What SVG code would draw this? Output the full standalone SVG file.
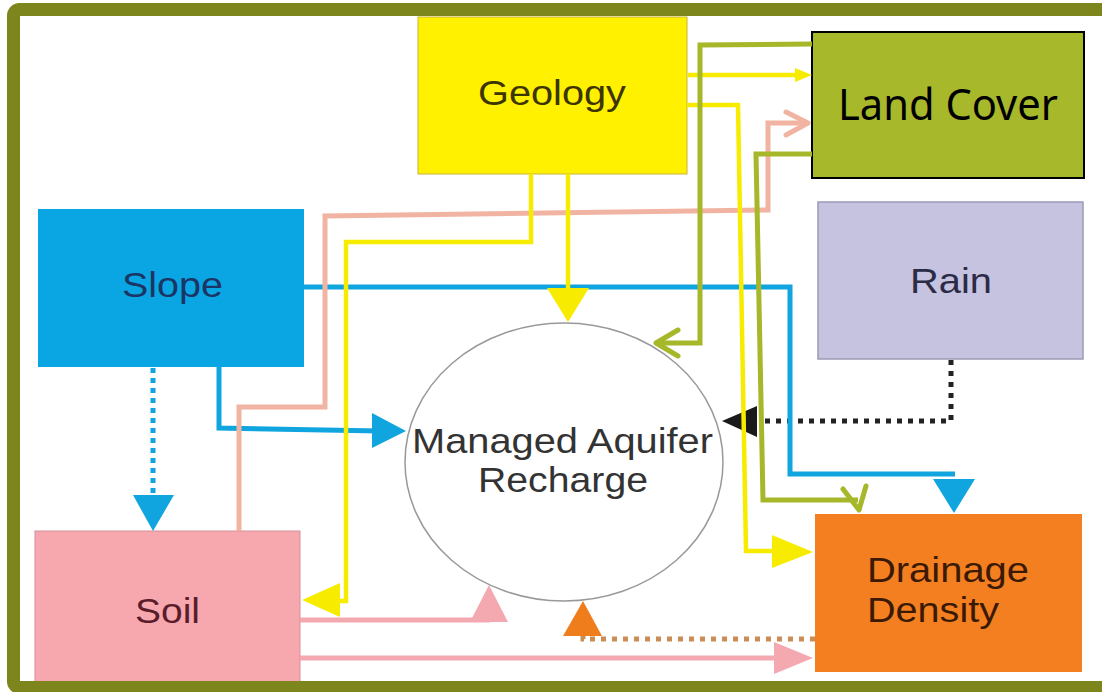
<svg xmlns="http://www.w3.org/2000/svg" width="1102" height="692" viewBox="0 0 1102 692">
<style>
.t{font-family:"Liberation Sans",Arial,sans-serif;font-size:35px}
.y{fill:none;stroke:#f7ec00;stroke-width:4.5}
.yf{fill:#f7ec00}
.b{fill:none;stroke:#10a5de;stroke-width:5}
.bf{fill:#10a5de}
.bd{fill:none;stroke:#10a5de;stroke-width:5;stroke-dasharray:5 5}
.g{fill:none;stroke:#a6b729;stroke-width:5;stroke-linejoin:miter}
.gc{fill:none;stroke:#a6b729;stroke-width:5;stroke-linecap:round;stroke-linejoin:round}
.s{fill:none;stroke:#f1b4a2;stroke-width:5}
.sc{fill:none;stroke:#f1b4a2;stroke-width:5;stroke-linecap:round;stroke-linejoin:round}
.pk{fill:none;stroke:#f4a9b1;stroke-width:5}
.pkf{fill:#f4a9b1}
.od{fill:none;stroke:#c98d55;stroke-width:5;stroke-dasharray:5 6}
.of{fill:#f07d1c}
.kd{fill:none;stroke:#222;stroke-width:5;stroke-dasharray:5 6}
.kf{fill:#1a1a1a}
</style>
<rect width="1102" height="692" fill="#ffffff"/>
<g id="node-geology">
<rect x="418" y="17" width="269" height="157" fill="#fff100" stroke="#c9b43a" stroke-width="1"/>
<text class="t" x="478" y="105" font-size="37.5" textLength="148" lengthAdjust="spacingAndGlyphs" fill="#3d3500">Geology</text>
</g>
<g id="node-landcover">
<rect x="812" y="32" width="272" height="146" fill="#a8b82b" stroke="#000" stroke-width="2"/>
<text x="838" y="120" font-family="'Noto Sans','Open Sans',sans-serif" font-size="44" textLength="220" lengthAdjust="spacingAndGlyphs" fill="#000">Land Cover</text>
</g>
<g id="node-slope">
<rect x="38" y="209" width="266" height="158" fill="#0aa6e3"/>
<text class="t" x="122" y="297" textLength="101" lengthAdjust="spacingAndGlyphs" fill="#1b3566">Slope</text>
</g>
<g id="node-rain">
<rect x="818" y="202" width="265" height="157" fill="#c5c3e0" stroke="#9b9ab5" stroke-width="1.5"/>
<text class="t" x="910" y="293" textLength="82" lengthAdjust="spacingAndGlyphs" fill="#2b2b45">Rain</text>
</g>
<g id="node-drainage">
<rect x="815" y="514" width="267" height="158" fill="#f47f20"/>
<text class="t" x="867" y="582" textLength="162" lengthAdjust="spacingAndGlyphs" fill="#3b1a05">Drainage</text>
<text class="t" x="867" y="622" textLength="132" lengthAdjust="spacingAndGlyphs" fill="#3b1a05">Density</text>
</g>
<g id="node-soil">
<rect x="35" y="531" width="265" height="165" fill="#f6a8ae" stroke="#d89098" stroke-width="1"/>
<text class="t" x="135" y="623" textLength="65" lengthAdjust="spacingAndGlyphs" fill="#5a1c2a">Soil</text>
</g>
<g id="node-mar">
<ellipse cx="564" cy="462" rx="159" ry="139" fill="#ffffff" stroke="#999" stroke-width="1.5"/>
<text class="t" x="412" y="453" textLength="301" lengthAdjust="spacingAndGlyphs" fill="#333">Managed Aquifer</text>
<text class="t" x="478" y="492" textLength="170" lengthAdjust="spacingAndGlyphs" fill="#333">Recharge</text>
</g>
<g id="connectors">
<!-- Rain -> MAR -->
<path class="kd" d="M951,360 V421 H765"/>
<polygon class="kf" points="757,406 722,421 757,437"/>
<!-- Slope -> Drainage -->
<path class="b" d="M304,287 H790 V474 H955"/>
<polygon class="bf" points="933,479 975,479 954,513"/>
<!-- Slope -> MAR -->
<path class="b" d="M219,367 V428 L380,431"/>
<polygon class="bf" points="372,413 406,431 372,448"/>
<!-- Slope -> Soil -->
<path class="bd" d="M153,368 V495"/>
<polygon class="bf" points="133,495 174,495 153,531"/>
<!-- Soil -> Land Cover -->
<path class="s" d="M239,531 V407 H325 V216 L768,210 V123 H806"/>
<path class="sc" d="M786,112 L808,123 L786,135"/>
<!-- Geology -> Land Cover -->
<path class="y" d="M688,75 H795"/>
<polygon class="yf" points="795,68 812,75 795,82"/>
<!-- Geology -> Drainage -->
<path class="y" d="M687,105 H738 L746,551 H775"/>
<polygon class="yf" points="772,535 813,552 772,568"/>
<!-- Geology -> MAR -->
<path class="y" d="M568,174 V292"/>
<polygon class="yf" points="547,288 589,288 568,322"/>
<!-- Geology -> Soil -->
<path class="y" d="M531,174 V242 H346 V601 H338"/>
<polygon class="yf" points="340,583 302,600 340,617"/>
<!-- Land Cover -> MAR -->
<path class="g" d="M812,44 L700,45 V343 H660"/>
<path class="gc" d="M678,330 L656,343 L678,356"/>
<!-- Land Cover -> Drainage -->
<path class="g" d="M812,154 H756 L763,500 H858"/>
<path class="gc" d="M843,489 L859,510 L866,486"/>
<!-- Soil -> MAR -->
<path class="pk" d="M300,620 H490"/>
<polygon class="pkf" points="470,622 508,622 489,585"/>
<!-- Soil -> Drainage -->
<path class="pk" d="M300,658 H780"/>
<polygon class="pkf" points="774,642 813,658 774,674"/>
<!-- Drainage -> MAR -->
<path class="od" d="M815,639 H583 V634"/>
<polygon class="of" points="563,636 602,636 583,601"/>
</g>
<rect id="frame" x="13.5" y="9.5" width="1100" height="678" rx="6" fill="none" stroke="#7c861c" stroke-width="13"/>
</svg>
